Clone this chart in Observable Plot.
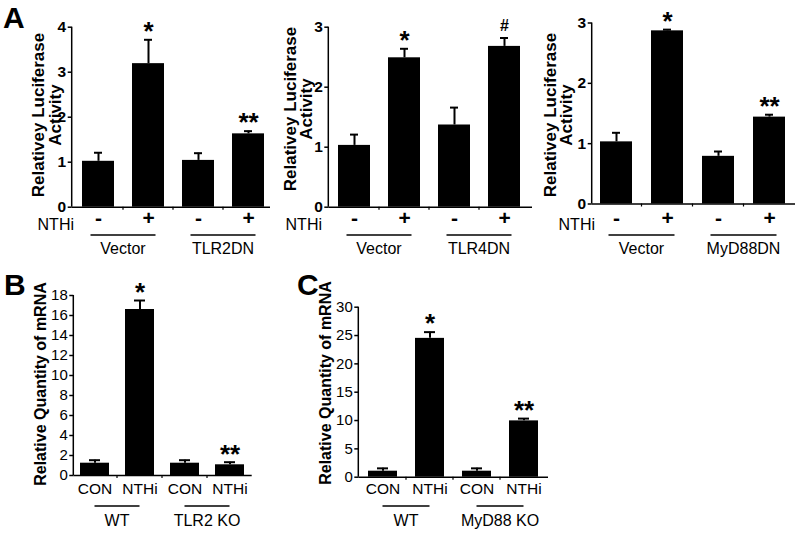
<!DOCTYPE html>
<html><head><meta charset="utf-8">
<script src="https://cdn.jsdelivr.net/npm/d3@7"></script>
<script src="https://cdn.jsdelivr.net/npm/@observablehq/plot@0.6"></script>
<style>
body{margin:0;background:#fff;}
#fig{position:relative;width:800px;height:533px;overflow:hidden;background:#fff;font-family:"Liberation Sans",Arial,Helvetica,sans-serif;}
#fig svg{position:absolute;}
</style></head><body><div id="fig"></div>
<script>
// ---------- data ----------
const nthiSigns = ["-", "+", "-", "+"];
const conNthi = ["CON", "NTHi", "CON", "NTHi"];

const a1Groups = ["Vector", "TLR2DN"];
const a1Values = [1.02, 3.19, 1.04, 1.63];
const a1Errors = [0.19, 0.53, 0.16, 0.06];
const a1Marks = ["", "*", "", "**"];
const a1Ticks = [0, 1, 2, 3, 4];

const a2Groups = ["Vector", "TLR4DN"];
const a2Values = [1.03, 2.49, 1.37, 2.68];
const a2Errors = [0.18, 0.15, 0.29, 0.14];
const a2Marks = ["", "*", "", "#"];
const a2Ticks = [0, 1, 2, 3];

const a3Groups = ["Vector", "MyD88DN"];
const a3Values = [1.03, 2.87, 0.79, 1.44];
const a3Errors = [0.15, 0.02, 0.08, 0.04];
const a3Marks = ["", "*", "", "**"];
const a3Ticks = [0, 1, 2, 3];

const bGroups = ["WT", "TLR2 KO"];
const bValues = [1.23, 16.6, 1.23, 1.07];
const bErrors = [0.3, 0.9, 0.3, 0.26];
const bMarks = ["", "*", "", "**"];
const bTicks = [0, 2, 4, 6, 8, 10, 12, 14, 16, 18];

const cGroups = ["WT", "MyD88 KO"];
const cValues = [1.06, 24.5, 1.06, 9.94];
const cErrors = [0.5, 1.1, 0.5, 0.4];
const cMarks = ["", "*", "", "**"];
const cTicks = [0, 5, 10, 15, 20, 25, 30];

const luciferaseTitle = ["Relativey Luciferase", "Activity"];
const mrnaTitle = ["Relative Quantity of mRNA"];
const treatmentLabel = "NTHi";
const panelLetters = ["A", "B", "C"];

// ---------- drawing ----------
const FONT = '"Liberation Sans", Arial, Helvetica, sans-serif';
const fig = document.getElementById("fig");

function drawPanel(c) {
  const ids = c.labels.map((_, i) => "b" + i);
  const rows = ids.map((id, i) => ({id, v: c.values[i], hi: c.values[i] + c.errors[i], mark: c.marks[i], lab: c.labels[i]}));
  const y0page = c.top + c.h - c.mb;
  const plot = Plot.plot({
    width: c.w, height: c.h,
    marginLeft: c.ml, marginRight: c.mr, marginTop: c.mt, marginBottom: c.mb,
    style: {fontFamily: FONT, background: "transparent", overflow: "visible", color: "#000"},
    x: {type: "band", domain: ids, paddingInner: c.pi, paddingOuter: c.po, align: c.align, axis: null},
    y: {domain: c.yDomain, axis: null},
    marks: [
      Plot.barY(rows, {x: "id", y: "v", fill: "#000"}),
      Plot.ruleX(rows, {x: "id", y1: "v", y2: "hi", stroke: "#000", strokeWidth: 2}),
      Plot.tickY(rows, {x: "id", y: "hi", stroke: "#000", strokeWidth: 2, insetLeft: c.cap, insetRight: c.cap}),
      Plot.ruleY([0], {stroke: "#000", strokeWidth: 1.5}),
      Plot.axisY({ticks: c.yTicks, tickFormat: d => String(d), tickSize: 4, tickPadding: 2, fontSize: c.tickFont, fontWeight: c.tickWeight, strokeWidth: 1.5, label: null}),
      Plot.text(rows.filter(d => d.mark.startsWith("*")), {x: "id", y: "hi", text: "mark", dy: -8, fontSize: 26, fontWeight: "bold"}),
      Plot.text(rows.filter(d => d.mark === "#"), {x: "id", y: "hi", text: "mark", dy: -12, fontSize: 16, fontWeight: "bold"}),
      Plot.text(rows, {x: "id", text: "lab", frameAnchor: "bottom", dy: c.labY - y0page, fontSize: c.labFont, fontWeight: c.labWeight})
    ]
  });
  plot.style.left = c.left + "px";
  plot.style.top = c.top + "px";
  fig.appendChild(plot);

  const xs = plot.scale("x"), ys = plot.scale("y");
  const cx = i => xs.apply(ids[i]) + xs.bandwidth / 2;
  const y0 = ys.apply(0);
  const g = d3.select(plot).append("g").attr("font-family", FONT).attr("fill", "#000");
  // y axis line
  g.append("line").attr("x1", c.ml).attr("x2", c.ml)
    .attr("y1", ys.apply(c.yDomain[1])).attr("y2", y0)
    .attr("stroke", "#000").attr("stroke-width", 1.5);
  // small x ticks between bars
  for (let i = 0; i < ids.length - 1; i++) {
    const x = (cx(i) + cx(i + 1)) / 2;
    g.append("line").attr("x1", x).attr("x2", x).attr("y1", y0).attr("y2", y0 + 3)
      .attr("stroke", "#000").attr("stroke-width", 1.2);
  }
  // group underlines + labels
  c.groups.forEach((name, k) => {
    const a = cx(2 * k), b = cx(2 * k + 1);
    g.append("line").attr("x1", a - c.ulExt).attr("x2", b + c.ulExt)
      .attr("y1", c.ulY - c.top).attr("y2", c.ulY - c.top)
      .attr("stroke", "#000").attr("stroke-width", 1.5);
    g.append("text").attr("x", (a + b) / 2).attr("y", c.grpY - c.top).attr("dy", "0.35em")
      .attr("text-anchor", "middle").attr("font-size", c.grpFont).text(name);
  });
  // treatment label
  if (c.nthiRight != null) {
    g.append("text").attr("x", c.nthiRight - c.left).attr("y", c.labY - c.top).attr("dy", "0.35em")
      .attr("text-anchor", "end").attr("font-size", 16).text(treatmentLabel);
  }
  // y title
  c.title.forEach((line, i) => {
    g.append("text")
      .attr("transform", `translate(${c.titleX[i] - c.left},${c.titleY - c.top}) rotate(-90)`)
      .attr("dy", "0.35em").attr("text-anchor", "middle")
      .attr("font-weight", "bold").attr("font-size", c.titleFont).text(line);
  });
}

const aCommon = {labels: nthiSigns, labFont: 21, labWeight: "bold", tickFont: 15.5, tickWeight: "bold",
  cap: 12, ulExt: 7.5, labY: 224, ulY: 235, grpY: 248, grpFont: 16, title: luciferaseTitle, titleFont: 17};
const bcCommon = {labels: conNthi, labFont: 15.5, labWeight: "normal", tickFont: 15, tickWeight: "normal",
  cap: 9, ulExt: 0, labY: 493, ulY: 506, grpY: 520, grpFont: 16, title: mrnaTitle, titleFont: 16, nthiRight: null};

drawPanel({...aCommon, left: 0, top: 0, w: 275, h: 260, ml: 71.7, mr: 5, mt: 26.7, mb: 53.3,
  pi: 0.366, po: 0.146, align: 0.6, yDomain: [0, 4], yTicks: a1Ticks,
  values: a1Values, errors: a1Errors, marks: a1Marks, groups: a1Groups,
  titleX: [38.5, 55], titleY: 115, nthiRight: 74});
drawPanel({...aCommon, left: 270, top: 0, w: 265, h: 260, ml: 58.3, mr: 3, mt: 26.7, mb: 53.3,
  pi: 0.36, po: 0.185, align: 0.45, yDomain: [0, 3], yTicks: a2Ticks,
  values: a2Values, errors: a2Errors, marks: a2Marks, groups: a2Groups,
  titleX: [290.5, 306.5], titleY: 109, nthiRight: 322});
drawPanel({...aCommon, left: 535, top: 0, w: 265, h: 260, ml: 56.7, mr: 5, mt: 22.5, mb: 56.5,
  pi: 0.368, po: 0.174, align: 0.48, yDomain: [0, 3], yTicks: a3Ticks,
  values: a3Values, errors: a3Errors, marks: a3Marks, groups: a3Groups,
  titleX: [550, 566], titleY: 115, nthiRight: 595});
drawPanel({...bcCommon, left: 0, top: 270, w: 300, h: 263, ml: 73.3, mr: 48.3, mt: 25, mb: 58,
  pi: 0.35, po: 0.148, align: 0.5, yDomain: [0, 18], yTicks: bTicks,
  values: bValues, errors: bErrors, marks: bMarks, groups: bGroups,
  titleX: [40], titleY: 384});
drawPanel({...bcCommon, left: 300, top: 270, w: 260, h: 263, ml: 58.3, mr: 12, mt: 36.7, mb: 56.3,
  pi: 0.376, po: 0.193, align: 0.5, yDomain: [0, 30], yTicks: cTicks,
  values: cValues, errors: cErrors, marks: cMarks, groups: cGroups,
  titleX: [325], titleY: 383});

// panel letters
const over = d3.select(fig).append("svg").attr("width", 800).attr("height", 533)
  .style("left", "0px").style("top", "0px").style("pointer-events", "none");
const letterPos = [[3, 27.5], [4, 295], [297, 295]];
panelLetters.forEach((L, i) => {
  over.append("text").attr("x", letterPos[i][0]).attr("y", letterPos[i][1])
    .attr("font-family", FONT).attr("font-weight", "bold").attr("font-size", 30).text(L);
});
</script></body></html>
